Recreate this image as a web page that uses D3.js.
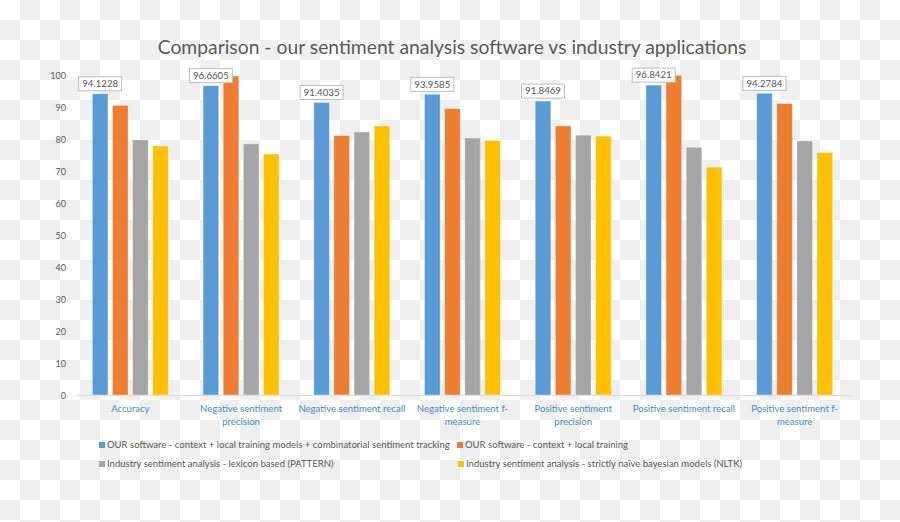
<!DOCTYPE html>
<html><head><meta charset="utf-8">
<script src="https://cdn.jsdelivr.net/npm/d3@7"></script>
<style>html,body{margin:0;padding:0;background:#fff;}svg{display:block;}</style>
</head><body>
<svg id="chart" width="900" height="522"></svg>
<script>
const titleText = "Comparison - our sentiment analysis software vs industry applications";
const categories = ["Accuracy","Negative sentiment precision","Negative sentiment recall","Negative sentiment f-measure","Positive sentiment precision","Positive sentiment recall","Positive sentiment f-measure"];
const seriesNames = [
  "OUR software - context + local training models + combinatorial sentiment tracking",
  "OUR software - context + local training",
  "Industry sentiment analysis - lexicon based (PATTERN)",
  "Industry sentiment analysis - strictly naïve bayesian models (NLTK)"
];
const ourFull   = [94.1228, 96.6605, 91.4035, 93.9585, 91.8469, 96.8421, 94.2784];
const ourLocal  = [90.5, 99.7, 81.1, 89.5, 84.1, 99.9, 91.1];
const pattern   = [79.7, 78.5, 82.2, 80.3, 81.2, 77.4, 79.4];
const nltk      = [77.8, 75.3, 84.1, 79.5, 80.9, 71.2, 75.8];
const yTicks    = [0,10,20,30,40,50,60,70,80,90,100];
const colors    = ["#5b9bd5","#ed7d31","#a5a5a5","#ffc000"];
const seriesValues = [ourFull, ourLocal, pattern, nltk];
const labelledSeries = 0;

const svg = d3.select("#chart");
const FONT = "Lato, 'Open Sans', sans-serif";
const TXT = "#595959";

// checkerboard background
const defs = svg.append("defs");
const pat = defs.append("pattern").attr("id","chk").attr("width",40).attr("height",40).attr("patternUnits","userSpaceOnUse");
pat.append("rect").attr("width",40).attr("height",40).attr("fill","#ffffff");
pat.append("rect").attr("x",20).attr("y",0).attr("width",20).attr("height",20).attr("fill","#efefef");
pat.append("rect").attr("x",0).attr("y",20).attr("width",20).attr("height",20).attr("fill","#efefef");
svg.append("rect").attr("width",900).attr("height",522).attr("fill","url(#chk)");

// font fitting helpers
const meas = svg.append("text").attr("font-family",FONT).attr("visibility","hidden");
function fitSize(str, w){ meas.attr("font-size",100).text(str); const l = meas.node().getComputedTextLength(); return 100*w/l; }
function tw(s, size){ meas.attr("font-size",size).text(s); return meas.node().getComputedTextLength(); }

const x = d3.scaleBand().domain(categories).range([75,850]).paddingInner(0).paddingOuter(0);
const xs = d3.scaleBand().domain(d3.range(4)).range([0,x.bandwidth()]).paddingInner(0.225).paddingOuter(0.8625);
const y = d3.scaleLinear().domain([0,100]).range([395,75]);

// title
const tSize = fitSize(titleText, 589);
svg.append("text").attr("x",452).attr("y",54).attr("text-anchor","middle")
  .attr("font-family",FONT).attr("font-size",tSize).attr("fill",TXT).text(titleText);

// y axis
const yAxis = d3.axisLeft(y).tickValues(yTicks).tickSize(0).tickPadding(0);
const gy = svg.append("g").attr("transform","translate(66,0)").call(yAxis);
gy.select(".domain").remove();
gy.selectAll("text").attr("font-family",FONT).attr("font-size",fitSize("100",15.7)).attr("fill",TXT).attr("dy","0.35em");

// baseline
const gx = svg.append("g").attr("transform","translate(0,"+y(0)+")").call(d3.axisBottom(x).tickSize(0).tickFormat(""));
gx.select(".domain").attr("stroke","#d9d9d9").attr("stroke-width",1);

// bars
const groups = svg.append("g").selectAll("g").data(categories).join("g")
  .attr("transform",d=>"translate("+x(d)+",0)");
groups.selectAll("rect").data((c,i)=>seriesValues.map((s,k)=>({k, v:s[i]}))).join("rect")
  .attr("x",d=>xs(d.k)).attr("width",xs.bandwidth())
  .attr("y",d=>y(d.v)).attr("height",d=>y(0)-y(d.v))
  .attr("fill",d=>colors[d.k]).attr("stroke","rgba(255,255,255,0.35)").attr("stroke-width",1);

// data labels on first series
const lblSize = fitSize("94.1228",36);
groups.each(function(c,i){
  const g = d3.select(this);
  const v = seriesValues[labelledSeries][i];
  const cx = xs(labelledSeries)+xs.bandwidth()/2;
  const top = y(v);
  g.append("rect").attr("x",cx-21.5).attr("y",top-17).attr("width",43).attr("height",14)
    .attr("fill","#ffffff").attr("stroke","#bfbfbf").attr("stroke-width",1);
  g.append("text").attr("x",cx).attr("y",top-10).attr("dy","0.35em").attr("text-anchor","middle")
    .attr("font-family",FONT).attr("font-size",lblSize).attr("fill",TXT).text(String(v));
});

// category labels (wrapped)
const cSize = fitSize("Negative sentiment recall",107);
function wrap(label, maxW){
  const parts = [];
  label.split(" ").forEach(w=>{ const i = w.indexOf("-"); if(i>0 && i<w.length-1){parts.push({t:w.slice(0,i+1),sp:false});parts.push({t:w.slice(i+1),sp:true});} else parts.push({t:w,sp:true}); });
  const lines=[]; let cur="";
  parts.forEach((p,idx)=>{
    const sep = (cur==="")?"":(parts[idx-1].sp?" ":"");
    const cand = cur+sep+p.t;
    if(cur!=="" && tw(cand,cSize)>maxW){ lines.push(cur); cur=p.t; } else cur=cand;
  });
  if(cur) lines.push(cur);
  return lines;
}
categories.forEach(c=>{
  const lines = wrap(c,110);
  const t = svg.append("text").attr("text-anchor","middle").attr("font-family",FONT).attr("font-size",cSize).attr("fill","#4a8ccb");
  lines.forEach((ln,j)=>{
    t.append("tspan").attr("x",x(c)+x.bandwidth()/2).attr("y",409+13*j).attr("dy","0.35em").text(ln);
  });
});

// legend
const lgSize = fitSize(seriesNames[0],343);
const legendPos = [[99,445],[457,445],[99,464],[458,464]];
seriesNames.forEach((n,k)=>{
  const [lx,ly] = legendPos[k];
  svg.append("rect").attr("x",lx).attr("y",ly-3).attr("width",6).attr("height",6).attr("fill",colors[k]);
  svg.append("text").attr("x",lx+8).attr("y",ly).attr("dy","0.35em").attr("font-family",FONT).attr("font-size",lgSize).attr("fill",TXT).text(n);
});
meas.remove();
</script>
</body></html>
